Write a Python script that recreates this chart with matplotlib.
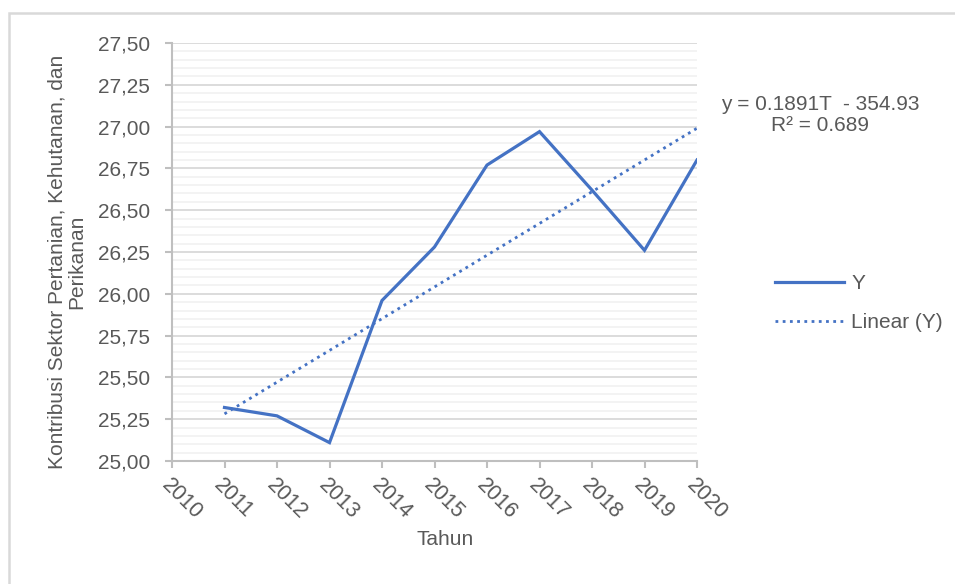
import numpy as np
import matplotlib.pyplot as plt
from matplotlib.ticker import MultipleLocator, FuncFormatter
from matplotlib.patches import Rectangle

plt.rcParams['font.family'] = ['Liberation Sans', 'DejaVu Sans']

# data
tahun = [2011, 2012, 2013, 2014, 2015, 2016, 2017, 2018, 2019, 2020]
nilai_y = [25.32, 25.27, 25.11, 25.96, 26.28, 26.77, 26.97, 26.62, 26.26, 26.80]
xtick_tahun = list(range(2010, 2021))

abu = '#595959'
biru = '#4472C4'

fig = plt.figure(figsize=(9.55, 5.84), dpi=100)
W, H = 955, 584
x0, x1, y0, y1 = 172, 697, 43, 461   # area plot dalam piksel
ax = fig.add_axes([x0 / W, 1 - y1 / H, (x1 - x0) / W, (y1 - y0) / H])

# tepi bingkai
fig.patches.append(Rectangle((9 / W, -0.2), 1.2, 1.2 - 13 / H, transform=fig.transFigure,
                             fill=False, edgecolor='#d9d9d9', linewidth=1.8))

ax.plot(tahun, nilai_y, color=biru, linewidth=2.3, label='Y', solid_joinstyle='miter')

# trendline
k = np.polyfit(tahun, nilai_y, 1)
tr = np.polyval(k, tahun)
ax.plot(tahun, tr, color=biru, linewidth=2.0, linestyle=(0, (1, 1.6)), label='Linear (Y)')

ax.set_xlim(2010, 2020)
ax.set_ylim(25.0, 27.5)
ax.yaxis.set_major_locator(MultipleLocator(0.25))
ax.yaxis.set_minor_locator(MultipleLocator(0.05))
ax.yaxis.set_major_formatter(FuncFormatter(lambda v, p: f'{v:.2f}'.replace('.', ',')))
ax.set_xticks(xtick_tahun)
ax.set_xticklabels([str(t) for t in xtick_tahun], rotation=-45, ha='left', va='top',
                   rotation_mode='anchor', fontsize=15.5)

ax.grid(which='major', axis='y', color='#d9d9d9', linewidth=1.3)
ax.grid(which='minor', axis='y', color='#f2f2f2', linewidth=1.3)
ax.set_axisbelow(True)

for s in ['top', 'right']:
    ax.spines[s].set_visible(False)
for s in ['left', 'bottom']:
    ax.spines[s].set_color('#bfbfbf')
    ax.spines[s].set_linewidth(1.5)

ax.tick_params(axis='both', which='major', colors='#bfbfbf', labelcolor=abu,
               length=5, width=1.5)
ax.tick_params(axis='y', labelsize=15)
ax.tick_params(axis='y', which='minor', length=0)
ax.tick_params(axis='x', pad=5)
ax.tick_params(axis='y', pad=11)

ax.set_xlabel('Tahun', fontsize=15, color=abu)
ax.xaxis.set_label_coords((445 - x0) / (x1 - x0), (y1 - 530) / (y1 - y0))
ax.set_ylabel('Kontribusi Sektor Pertanian, Kehutanan, dan\nPerikanan', fontsize=15,
              color=abu, linespacing=1.0, va='center')
ax.yaxis.set_label_coords((67 - x0) / (x1 - x0), (y1 - 262) / (y1 - y0))

fig.text(820 / W, 1 - 115 / H, 'y = 0.1891T  - 354.93\nR² = 0.689', ha='center', va='center',
         fontsize=15, color=abu, linespacing=1.15)

leg = ax.legend(loc='center left', bbox_to_anchor=(775 / W, 1 - 303 / H),
                bbox_transform=fig.transFigure, frameon=False, fontsize=15,
                labelcolor=abu, handlelength=3.3, handletextpad=0.35, labelspacing=0.95,
                borderpad=0, borderaxespad=0)

fig.savefig('out.png', dpi=100)
